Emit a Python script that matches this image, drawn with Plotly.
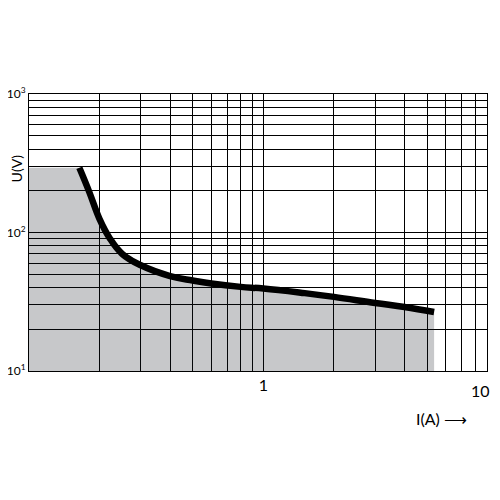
import plotly.graph_objects as go

# curve (I in A, U in V)
curve_i = [0.164, 0.181, 0.2, 0.22, 0.25, 0.3, 0.4, 0.5, 0.6, 0.8, 1.0, 1.5, 2.0, 3.0, 4.0, 5.35]
curve_u = [293, 195, 125, 92, 70, 58, 48.5, 45, 42.8, 40.5, 39.4, 36.5, 34.3, 31, 29, 26.7]
cap_u = 293
i_min, u_min = 0.1, 10

fill_x = [i_min, i_min] + curve_i + [curve_i[-1]]
fill_y = [u_min, cap_u] + curve_u + [u_min]

fig = go.Figure()
fig.add_trace(go.Scatter(x=fill_x, y=fill_y, fill="toself", mode="none",
                         fillcolor="rgba(20,25,35,0.24)", hoverinfo="skip"))
fig.add_trace(go.Scatter(x=curve_i, y=curve_u, mode="lines",
                         line=dict(color="black", width=6.5, shape="spline", smoothing=1.2)))

fig.update_layout(
    width=500, height=500, showlegend=False,
    margin=dict(l=21, r=21, t=86, b=137),
    plot_bgcolor="white", paper_bgcolor="white",
    font=dict(family="Lato", size=16, color="black"),
)
fig.update_xaxes(type="log", range=[-1, 0.954], showgrid=True, automargin=False,
                 gridcolor="black", gridwidth=1, minor=dict(showgrid=True, gridcolor="black", gridwidth=1, dtick="D1"),
                 tickvals=[1], ticktext=["1"], ticks="", showline=True, linecolor="black", mirror=True, zeroline=False)
fig.update_yaxes(type="log", range=[1, 3], showgrid=True, gridcolor="black", gridwidth=1, automargin=False,
                 minor=dict(showgrid=True, gridcolor="black", gridwidth=1, dtick="D1"),
                 tickvals=[10, 100, 1000], ticktext=["10<sup>1</sup>", "10<sup>2</sup>", "10<sup>3</sup>"],
                 tickfont=dict(size=12), ticks="", ticklabelstandoff=0,
                 showline=True, linecolor="black", mirror=True, zeroline=False)
fig.add_annotation(x=1.01, y=-0.03, xref="paper", yref="paper", text="10", showarrow=False,
                   xanchor="right", yanchor="top", font=dict(size=16))
fig.add_annotation(x=-0.005, y=0.79, xref="paper", yref="paper", text="U(V)", showarrow=False,
                   textangle=-90, xanchor="right", font=dict(size=14))
fig.add_annotation(x=0.96, y=-0.13, xref="paper", yref="paper", text="I(A) ⟶", showarrow=False,
                   xanchor="right", yanchor="top", font=dict(size=16))
fig.write_html("out.html")
